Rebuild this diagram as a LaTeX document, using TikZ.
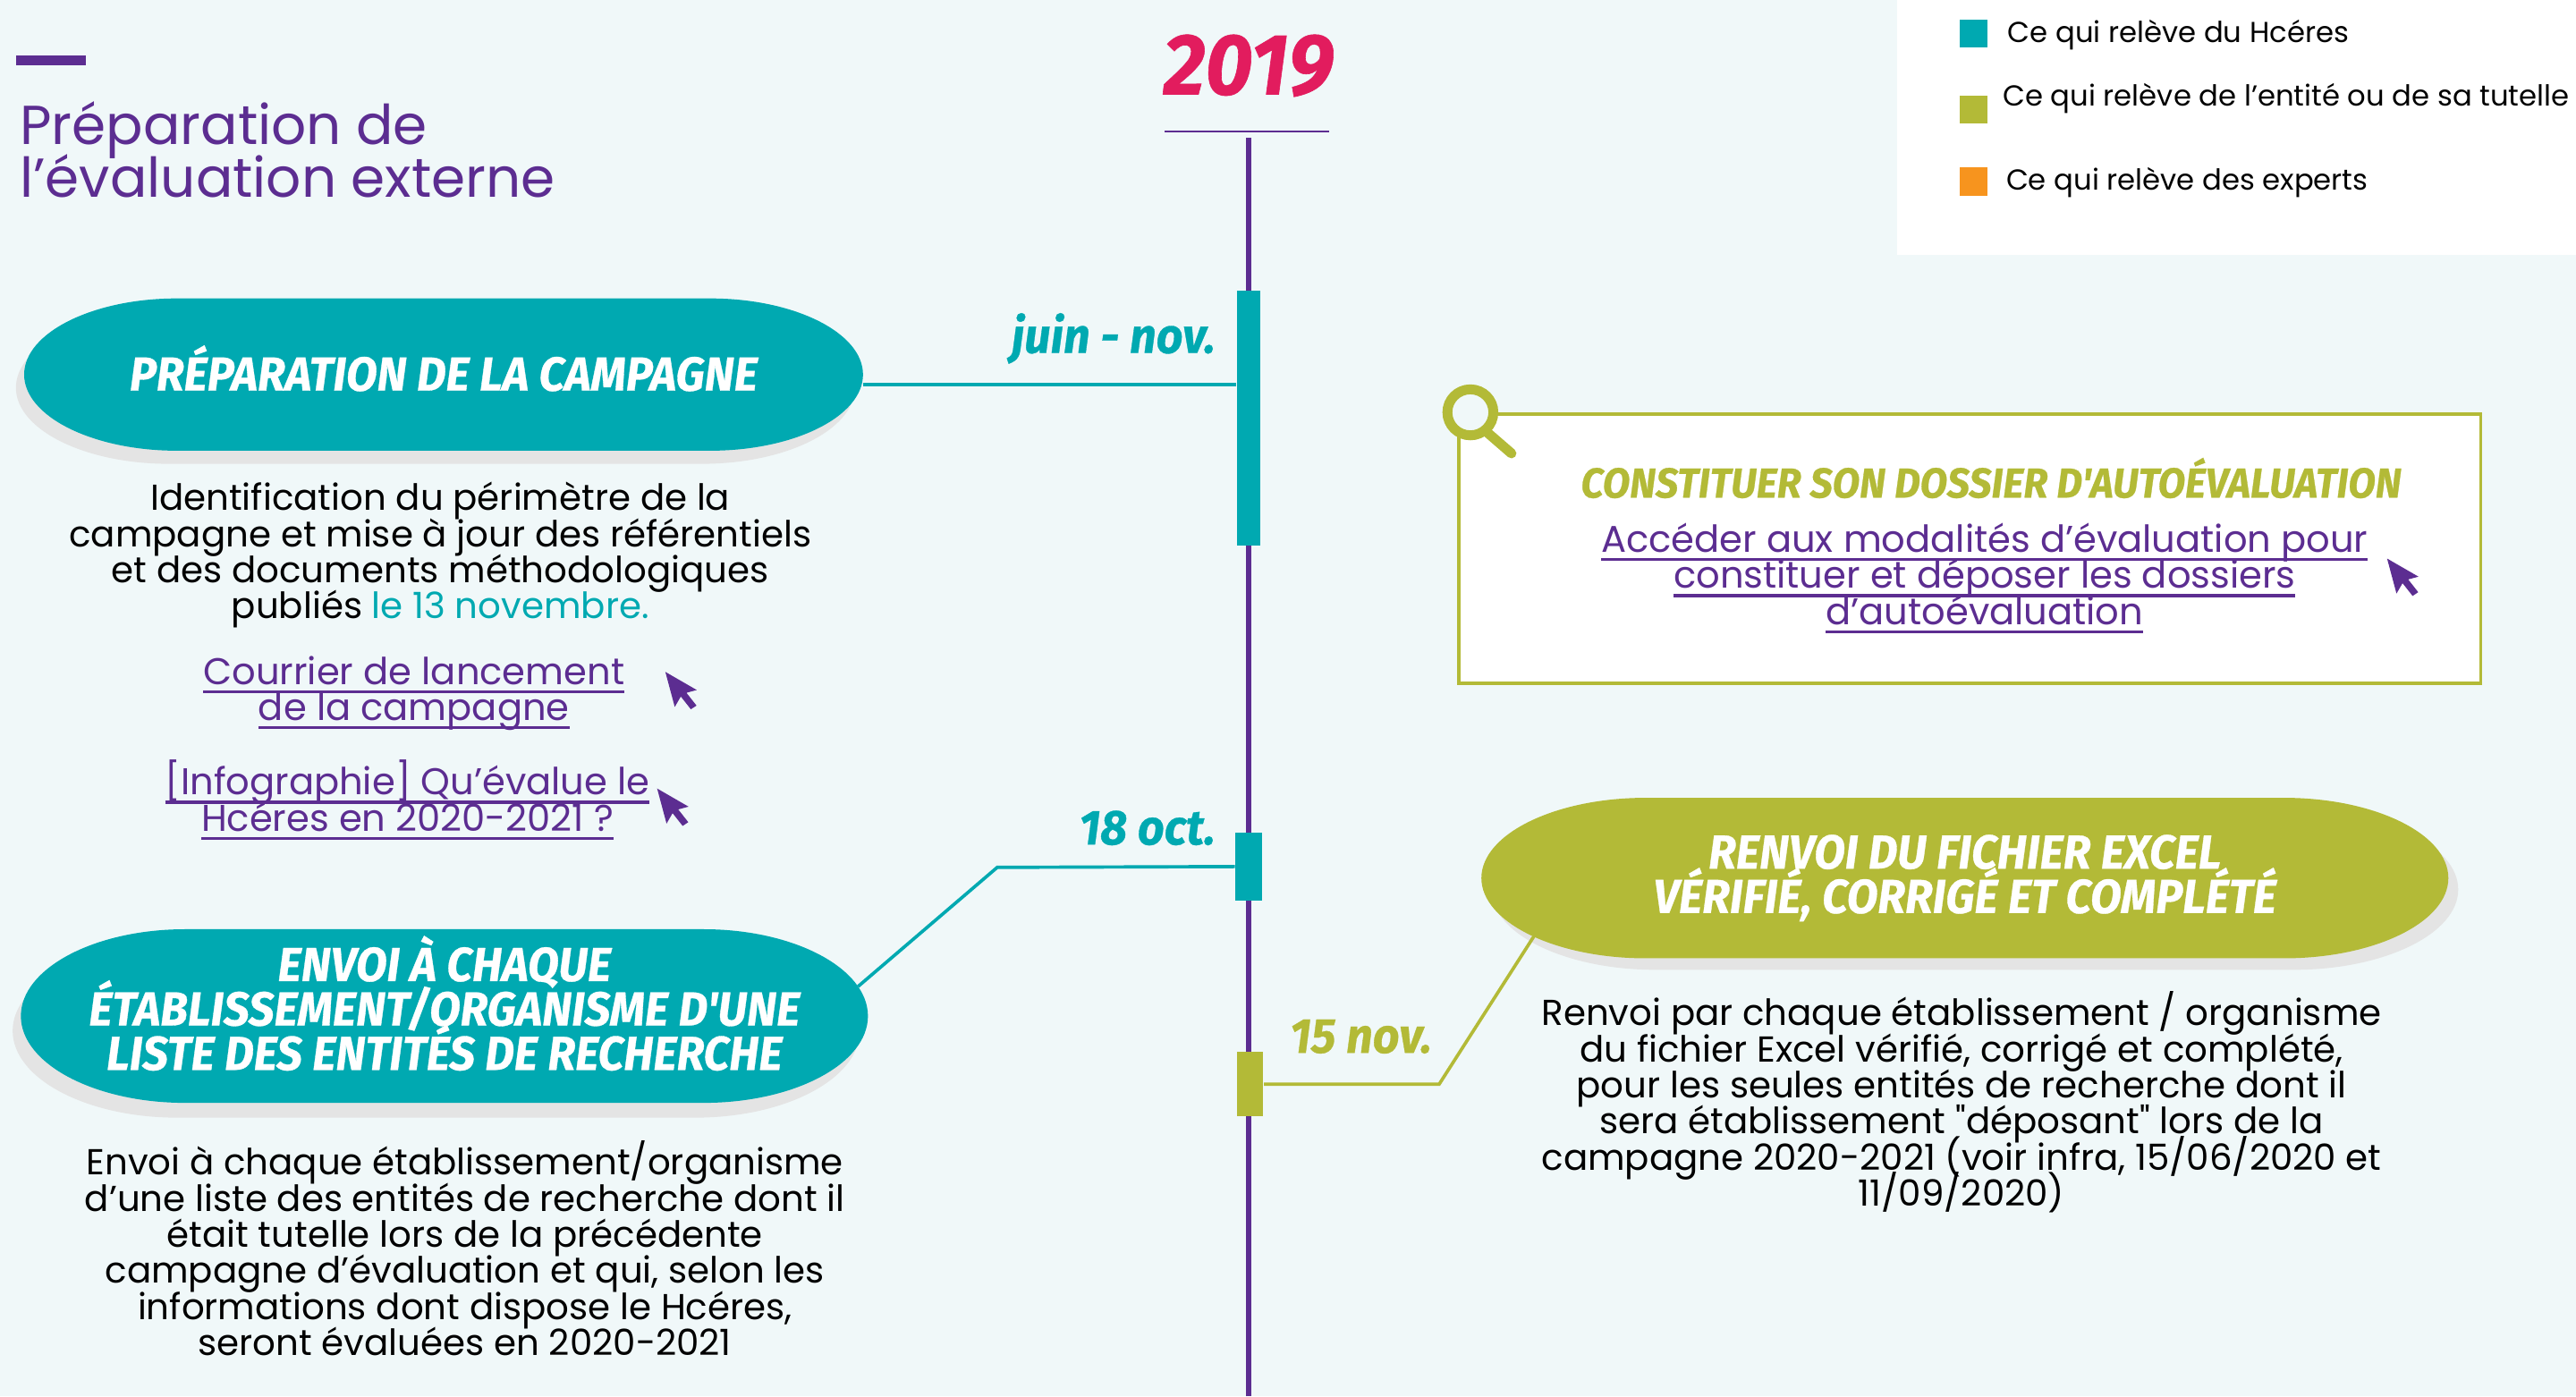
\documentclass[tikz,border=0pt]{standalone}
\usepackage{fontspec}
\setmainfont{Poppins}
\newfontfamily\headfont[FakeStretch=0.95, FakeBold=0.6]{Fira Sans}
\usetikzlibrary{calc}
\usetikzlibrary{backgrounds}

\definecolor{hteal}{HTML}{00A9B1}
\definecolor{hpurple}{HTML}{5C2D91}
\definecolor{holive}{HTML}{B3BA37}
\definecolor{horange}{HTML}{F7941E}
\definecolor{hpink}{HTML}{E21C5E}
\definecolor{hgray}{HTML}{E4E4E4}
\definecolor{hbg}{HTML}{F0F8F9}

\newcommand\bodyfont{\fontsize{12.5}{12.5}\selectfont\lineskiplimit=-20pt\relax}
\newcommand\linkfont{\fontsize{12.9}{12.5}\selectfont\lineskiplimit=-20pt\relax}
\newcommand\titlefont{\fontsize{19}{18.2}\selectfont\lineskiplimit=-20pt\relax}
\newcommand\pillfont{\headfont\bfseries\itshape\fontsize{16.5}{15.4}\selectfont\lineskiplimit=-20pt\relax}
\newcommand\datefont{\headfont\bfseries\itshape\fontsize{17}{17}\selectfont}
% underlined link line
\newcommand\lnk[1]{\setbox0\hbox{#1}\rlap{\rule[-3pt]{\wd0}{1pt}}\box0}

% pill with elliptic ends, drawn round a node
\newcommand\pillfill[3][]{%
  \fill[#1] (#2.west) .. controls ($(#2.west)!0.55!(#2.north west)$) and ($(#2.north west)+(0.45*#3,0)$) .. ($(#2.north west)+(#3,0)$)
    -- ($(#2.north east)+(-#3,0)$) .. controls ($(#2.north east)+(-0.45*#3,0)$) and ($(#2.east)!0.55!(#2.north east)$) .. (#2.east)
    .. controls ($(#2.east)!0.55!(#2.south east)$) and ($(#2.south east)+(-0.45*#3,0)$) .. ($(#2.south east)+(-#3,0)$)
    -- ($(#2.south west)+(#3,0)$) .. controls ($(#2.south west)+(0.45*#3,0)$) and ($(#2.west)!0.55!(#2.south west)$) .. (#2.west) -- cycle;}

\tikzset{
  pill/.style= {rectangle, inner sep=0pt, text=white, font=\pillfont, align=center},
  seg/.style= {rectangle, inner sep=0pt, minimum width=0.28cm},
  body/.style= {align=center, font=\bodyfont},
  link/.style= {align=center, text=hpurple, font=\linkfont},
  date/.style= {font=\datefont},
  legend/.style= {anchor=west, font=\fontsize{10}{11}\selectfont},
  conn/.style= {line width=0.04cm},
  pics/cursor/.style= {code={\fill[hpurple] (0,0) -- (0,17) -- (4,13) -- (7,20) -- (10,19) -- (7,12) -- (12,12) -- cycle;}},
}

\begin{document}
\begin{tikzpicture}[x=0.02cm, y=-0.02cm]
  \useasboundingbox (0,0) rectangle (1568,850);

  % legend
  \fill[white] (1155,0) rectangle (1568,155);
  \fill[hteal] (1193,12) rectangle (1210,29);
  \fill[holive] (1193,58) rectangle (1210,75);
  \fill[horange] (1193,102) rectangle (1210,119);
  \node [legend] (lg1) at (1216,21) {Ce qui relève du Hcéres};
  \node [legend] (lg2) at (1213,60) {Ce qui relève de l'entité ou de sa tutelle};
  \node [legend] (lg3) at (1215,111) {Ce qui relève des experts};

  % title
  \fill[hpurple] (10,34) rectangle (52,40);
  \node [anchor=west, align=left, text=hpurple, font=\titlefont] (title) at (6,91) {Préparation de\\l'évaluation externe};

  % timeline
  \node [text=hpink, font=\headfont\bfseries\itshape\fontsize{30}{30}\selectfont] (year) at (760,40) {2019};
  \draw[hpurple, line width=0.03cm] (709,80) -- (809,80);
  \coordinate (top) at (760,84);
  \coordinate (bottom) at (760,850);
  \draw[hpurple, line width=0.06cm] (top) -- (bottom);
  \node [seg, fill=hteal, minimum height=3.1cm] (seg1) at (760,254.5) {};
  \node [seg, fill=hteal, minimum width=0.32cm, minimum height=0.82cm] (seg2) at (760,527.5) {};
  \node [seg, fill=holive, minimum width=0.32cm, minimum height=0.78cm] (seg3) at (761,660) {};
  \node [date, text=hteal, anchor=east] (d1) at (746,206) {juin - nov.};
  \node [date, text=hteal, anchor=east] (d2) at (746,504) {18 oct.};
  \node [date, text=holive, anchor=west] (d3) at (779,631) {15 nov.};

  % pills
  \node [pill, text height=11.4pt, minimum width=10.2cm, minimum height=1.84cm] (p1) at (270,228) {PRÉPARATION DE LA CAMPAGNE};
  \node [pill, text height=37.6pt, minimum width=10.3cm, minimum height=2.1cm] (p2) at (270.5,618.5) {ENVOI À CHAQUE\\ÉTABLISSEMENT/ORGANISME D'UNE\\LISTE DES ENTITÉS DE RECHERCHE};
  \node [pill, minimum width=11.76cm, minimum height=1.94cm] (p3) at (1196,534.5) {RENVOI DU FICHIER EXCEL\\VÉRIFIÉ, CORRIGÉ ET COMPLÉTÉ};

  \coordinate (end1) at ($(p1.east)+(0,6)$);
  \draw[conn, hteal] (end1) -- (seg1.west |- end1);
  \coordinate (bend2) at (607,528);
  \draw[conn, hteal] (seg2.west) -- (bend2) -- ($(p2.east)+(-6,-18)$);
  \coordinate (bend3) at (876,660);
  \draw[conn, holive] (seg3.east) -- (bend3) -- ($(p3.south west)+(33,-15)$);

  % texts
  \node [body] (t1) at (268,338) {Identification du périmètre de la\\campagne et mise à jour des référentiels\\et des documents méthodologiques\\publiés \textcolor{hteal}{le 13 novembre.}};
  \node [link] (l1) at (252,422) {\lnk{Courrier de lancement}\\\lnk{de la campagne}};
  \node [link] (l2) at (248,487) {\lnk{[Infographie] Qu'évalue le}\\\lnk{Hcéres en 2020-2021 ?}};
  \node [body] (t2) at (283,760) {Envoi à chaque établissement/organisme\\d'une liste des entités de recherche dont il\\était tutelle lors de la précédente\\campagne d'évaluation et qui, selon les\\informations dont dispose le Hcéres,\\seront évaluées en 2020-2021};
  \node [body] (t3) at (1194,671) {Renvoi par chaque établissement / organisme\\du fichier Excel vérifié, corrigé et complété,\\pour les seules entités de recherche dont il\\sera établissement \textquotedbl déposant\textquotedbl{} lors de la\\campagne 2020-2021 (voir infra, 15/06/2020 et\\11/09/2020)};
  \pic[rotate=15, scale=1.3] at (405,409) {cursor};
  \pic[rotate=15, scale=1.3] at (400,480) {cursor};

  % dossier box
  \node [draw=holive, fill=white, line width=0.04cm, minimum width=12.44cm, minimum height=3.28cm, inner sep=0pt] (dossier) at (1199,334) {};
  \draw[holive, line width=0.12cm, fill=hbg] (895,251) circle[radius=0.28cm];
  \draw[holive, line width=0.12cm, line cap=round] (905,263) -- (920,276);
  \node [text=holive, font=\headfont\bfseries\itshape\fontsize{14.5}{14}\selectfont] (dtitle) at (1212,291) {CONSTITUER SON DOSSIER D'AUTOÉVALUATION};
  \node [link] (dlink) at (1208,352) {\lnk{Accéder aux modalités d'évaluation pour}\\\lnk{constituer et déposer les dossiers}\\\lnk{d'autoévaluation}};
  \pic[rotate=15, scale=1.3] at (1453,340) {cursor};

  \begin{pgfonlayer}{background}
    \fill[hbg] (0,0) rectangle (1568,850);
    \pillfill[hgray, transform canvas={shift={(-0.1cm,-0.16cm)}}]{p1}{93}
    \pillfill[hteal]{p1}{93}
    \pillfill[hgray, transform canvas={shift={(-0.1cm,-0.18cm)}}]{p2}{100}
    \pillfill[hteal]{p2}{100}
    \pillfill[hgray, transform canvas={shift={(0.12cm,-0.14cm)}}]{p3}{100}
    \pillfill[holive]{p3}{100}
  \end{pgfonlayer}
\end{tikzpicture}
\end{document}
